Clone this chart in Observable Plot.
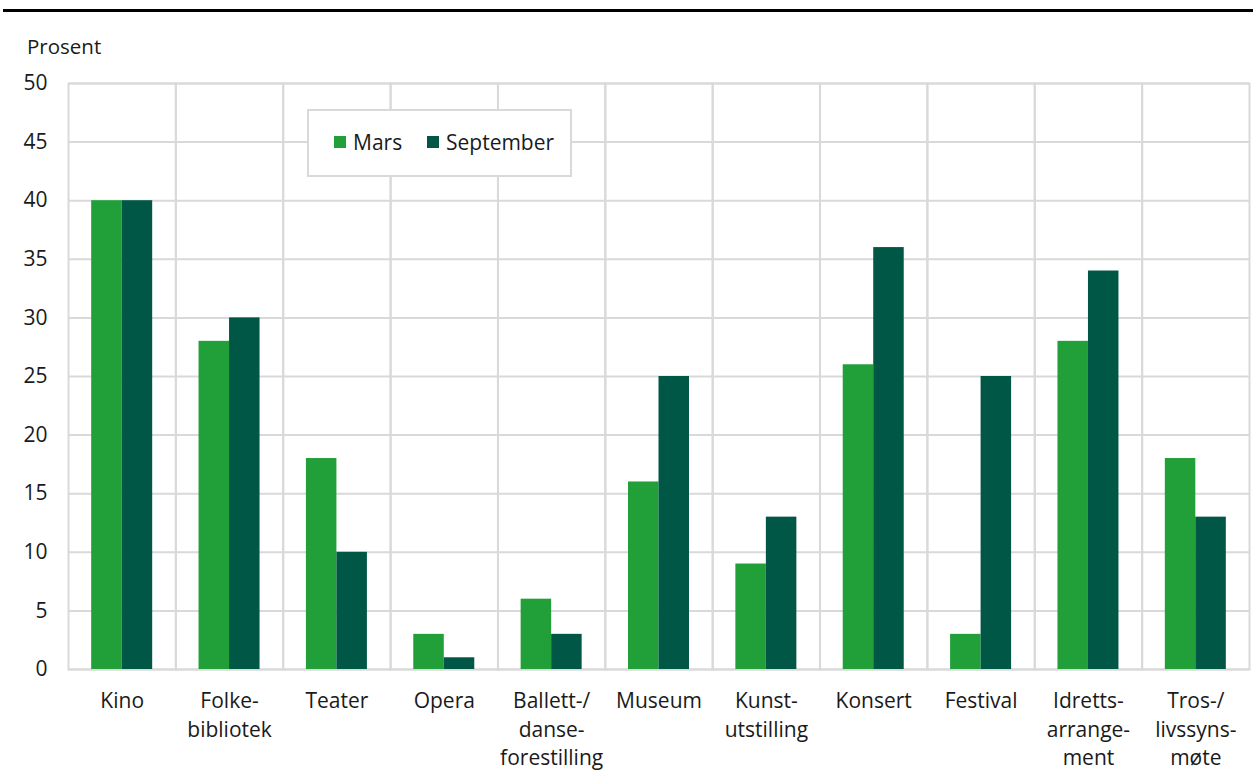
<!DOCTYPE html>
<html>
<head>
<meta charset="utf-8">
<script src="https://cdn.jsdelivr.net/npm/d3@7"></script>
<script src="https://cdn.jsdelivr.net/npm/@observablehq/plot@0.6"></script>
<style>
  html, body { margin: 0; padding: 0; background: #fff; }
  body { font-family: "Open Sans", sans-serif; color: #1a1a1a; }
  #wrap { position: relative; width: 1253px; height: 778px; overflow: hidden; }
  #rule { position: absolute; left: 3px; top: 9px; width: 1250px; height: 3px; background: #000; }
  #ylab { position: absolute; left: 27px; top: 33px; font-size: 20.5px; line-height: 26px; }
  #legend { position: absolute; left: 307px; top: 109px; width: 261px; height: 64px; border: 2px solid #d9d9d9; background: #fff; font-size: 21px; }
  .item { position: absolute; top: 18px; display: flex; align-items: center; height: 26px; }
  .sw { width: 12px; height: 12px; margin-right: 7px; }
  #chart { position: absolute; left: 0; top: 0; }
</style>
</head>
<body>
<div id="wrap">
  <div id="chart"></div>
  <div id="rule"></div>
  <div id="ylab">Prosent</div>
  <div id="legend"></div>
</div>
<script>
const categories = ["Kino", "Folkebibliotek", "Teater", "Opera", "Ballett", "Museum", "Kunstutstilling", "Konsert", "Festival", "Idrettsarrangement", "Troslivssynsmote"];
const categoryLabels = ["Kino", "Folke-\nbibliotek", "Teater", "Opera", "Ballett-/\ndanse-\nforestilling", "Museum", "Kunst-\nutstilling", "Konsert", "Festival", "Idretts-\narrange-\nment", "Tros-/\nlivssyns-\nmøte"];
const seriesNames = ["Mars", "September"];
const marsValues = [40, 28, 18, 3, 6, 16, 9, 26, 3, 28, 18];
const septemberValues = [40, 30, 10, 1, 3, 25, 13, 36, 25, 34, 13];
const seriesColors = ["#21a039", "#005746"];
const yTicks = [0, 5, 10, 15, 20, 25, 30, 35, 40, 45, 50];

const data = [];
categories.forEach((c, i) => {
  data.push({cat: c, series: seriesNames[0], value: marsValues[i]});
  data.push({cat: c, series: seriesNames[1], value: septemberValues[i]});
});
const labelOf = new Map(categories.map((c, i) => [c, categoryLabels[i]]));

const chart = Plot.plot({
  width: 1253,
  height: 778,
  marginLeft: 68,
  marginRight: 4,
  marginTop: 83,
  marginBottom: 109,
  style: {fontFamily: "'Open Sans', sans-serif", fontSize: "21px", color: "#1a1a1a", background: "transparent"},
  fx: {domain: categories, padding: 0, label: null, round: false},
  x: {domain: seriesNames, paddingInner: 0, paddingOuter: 0.76, axis: null, round: false},
  y: {domain: [0, 50], label: null},
  color: {domain: seriesNames, range: seriesColors},
  marks: [
    Plot.gridY(yTicks, {stroke: "#d9d9d9", strokeOpacity: 1, strokeWidth: 2}),
    Plot.frame({stroke: "#d9d9d9", strokeWidth: 2}),
    Plot.barY(data, {fx: "cat", x: "series", y: "value", fill: "series"}),
    Plot.axisY(yTicks, {tickSize: 0, tickPadding: 21, fontSize: 21, label: null}),
    Plot.axisFx({anchor: "bottom", tickSize: 0, tickPadding: 18, fontSize: 21, lineHeight: 1.37, tickFormat: d => labelOf.get(d), label: null})
  ]
});
document.getElementById("chart").appendChild(chart);

const legend = document.getElementById("legend");
const offsets = [25, 118];
seriesNames.forEach((s, i) => {
  const it = document.createElement("div");
  it.className = "item";
  it.style.left = offsets[i] + "px";
  it.innerHTML = `<div class="sw" style="background:${seriesColors[i]}"></div><span>${s}</span>`;
  legend.appendChild(it);
});
</script>
</body>
</html>
